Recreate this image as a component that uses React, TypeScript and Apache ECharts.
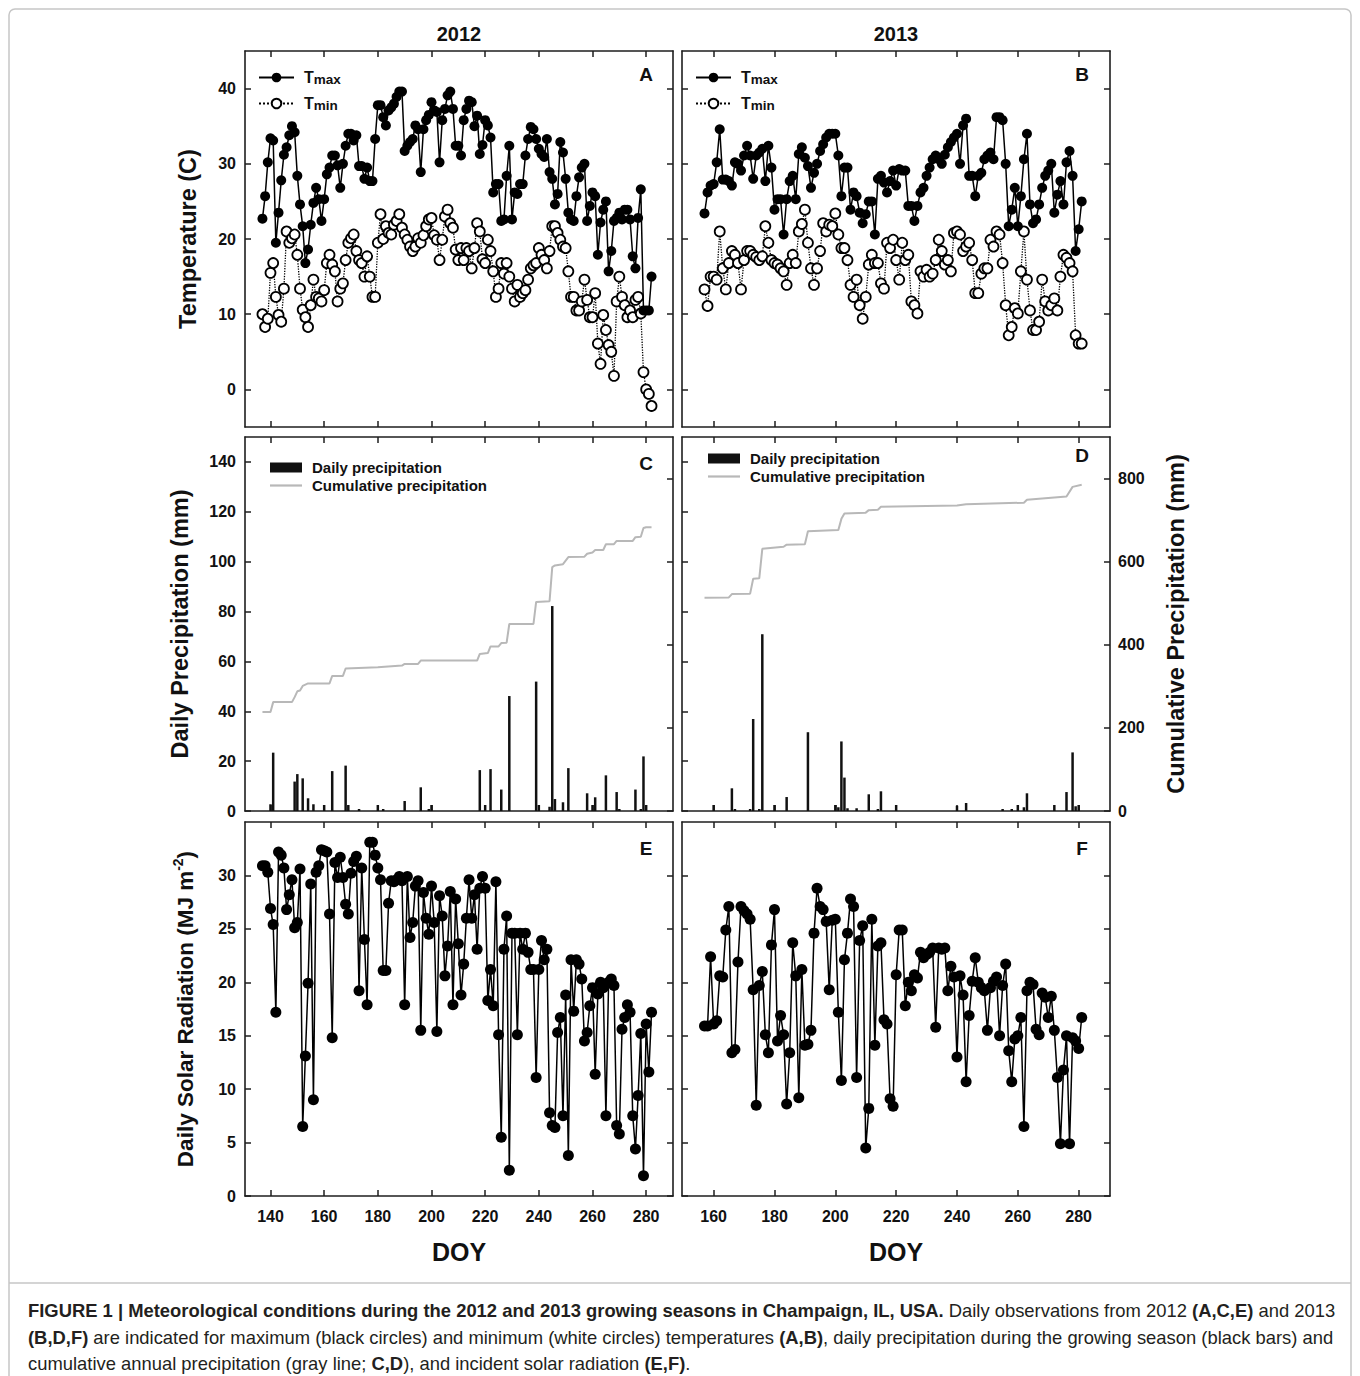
import React, { useEffect, useRef } from "react";
import * as echarts from "echarts";

const FONT = '"Liberation Sans", Arial, Helvetica, sans-serif';
const INK = "#111111";
const FRAME = "#1e1e1e";
const CUM_GRAY = "#b8b8b8";

// ---------------- data ----------------
const START_2012 = 137; // first DOY of daily series, 2012
const START_2013 = 157; // first DOY of daily series, 2013

const tmax2012 = [
  22.7, 25.7, 30.2, 33.4, 33.1, 19.5, 23.5, 27.8, 31.2, 32.2,
  33.8, 35.0, 34.2, 28.4, 24.6, 21.7, 16.8, 18.6, 21.9, 24.8,
  26.8, 25.3, 22.4, 25.3, 28.6, 29.5, 31.1, 31.1, 29.8, 26.8,
  30.0, 32.4, 34.0, 34.0, 33.1, 33.8, 29.7, 29.7, 28.0, 29.5,
  27.7, 27.7, 33.3, 37.8, 37.8, 36.2, 35.1, 37.1, 37.5, 38.0,
  38.9, 39.6, 39.6, 31.7, 32.4, 32.9, 33.3, 35.1, 34.6, 28.9,
  34.6, 35.8, 36.5, 38.2, 37.1, 36.9, 30.2, 35.8, 37.3, 39.1,
  39.6, 37.3, 32.4, 32.4, 31.1, 35.8, 37.3, 38.4, 38.2, 35.0,
  36.4, 31.3, 32.5, 35.8, 35.1, 33.5, 26.2, 27.3, 27.3, 22.4,
  22.6, 28.4, 32.4, 22.6, 26.2, 26.0, 27.3, 27.3, 31.1, 33.3,
  34.9, 34.6, 33.3, 32.0, 31.3, 30.9, 33.3, 28.9, 28.0, 24.6,
  26.0, 32.9, 31.5, 28.0, 23.5, 22.6, 22.4, 25.7, 28.2, 29.5,
  30.0, 22.4, 24.4, 26.2, 25.7, 17.9, 22.2, 23.9, 25.0, 15.7,
  18.4, 22.4, 22.8, 23.5, 22.6, 23.9, 23.9, 22.6, 17.7, 16.1,
  22.8, 26.6, 10.5, 10.5, 10.5, 15.0,
];

const tmin2012 = [
  10.0, 8.3, 9.4, 15.5, 16.8, 12.3, 9.9, 9.0, 13.4, 21.0,
  19.5, 20.1, 20.6, 17.9, 13.4, 10.6, 9.6, 8.3, 11.2, 14.6,
  12.3, 12.1, 11.7, 13.2, 16.8, 17.9, 16.6, 15.7, 11.7, 13.4,
  14.1, 17.2, 19.5, 20.1, 20.6, 18.4, 17.2, 16.8, 15.0, 17.7,
  15.0, 12.3, 12.3, 19.5, 23.3, 20.0, 21.7, 20.8, 20.6, 21.9,
  22.4, 23.3, 21.5, 20.6, 19.9, 19.0, 18.4, 19.0, 20.1, 19.5,
  20.5, 21.7, 22.6, 22.8, 20.5, 19.9, 17.2, 19.9, 23.0, 23.9,
  22.1, 21.5, 18.6, 17.2, 18.8, 17.2, 18.8, 18.4, 16.1, 18.8,
  22.1, 21.0, 17.3, 16.8, 19.9, 18.4, 15.7, 12.3, 13.4, 16.8,
  15.4, 16.8, 15.0, 13.4, 11.7, 13.9, 12.3, 12.8, 13.2, 14.6,
  16.1, 16.5, 16.8, 18.8, 17.9, 17.2, 16.1, 18.4, 21.7, 21.7,
  20.8, 19.9, 19.0, 18.8, 15.7, 12.3, 12.3, 10.5, 10.5, 11.7,
  14.6, 11.9, 9.6, 9.6, 12.8, 6.1, 3.4, 9.9, 7.9, 5.9,
  5.0, 1.8, 11.7, 15.0, 12.3, 11.2, 9.6, 10.5, 9.6, 11.9,
  12.3, 10.1, 2.3, 0.0, -0.6, -2.2,
];

const tmax2013 = [
  23.4, 26.2, 27.1, 27.3, 30.2, 34.6, 27.9, 27.9, 27.7, 27.1,
  30.2, 30.0, 29.1, 31.1, 32.4, 31.1, 28.0, 31.1, 31.5, 32.0,
  27.7, 32.4, 29.5, 23.9, 25.3, 25.3, 20.6, 25.3, 27.7, 28.4,
  25.3, 31.3, 32.2, 30.8, 29.7, 26.8, 28.8, 30.0, 31.7, 32.6,
  33.5, 34.0, 34.0, 34.0, 31.1, 25.7, 29.5, 29.5, 23.9, 26.2,
  25.7, 23.5, 22.1, 23.3, 25.0, 25.0, 20.6, 28.0, 28.4, 27.5,
  26.2, 27.7, 29.1, 27.1, 29.3,
  29.1, 29.1, 24.4, 24.4, 22.4, 24.4, 26.2, 26.8, 28.4, 29.5,
  30.6, 31.1, 30.6, 30.0, 31.2, 32.2, 32.9, 33.5, 34.0, 30.0,
  35.1, 36.0, 28.4, 28.4, 25.7, 28.4, 28.8, 30.6, 31.1, 31.5,
  30.6, 36.2, 36.2, 35.8,
  30.0, 21.7, 23.9, 26.8, 21.7, 25.7, 30.6, 34.0, 24.6, 22.1,
  22.6, 24.6, 26.8, 28.4, 29.1, 30.0, 23.5, 25.9, 27.7, 24.6,
  30.2, 31.7, 28.4, 18.4, 21.3, 25.0,
];

const tmin2013 = [
  13.3, 11.1, 15.0, 15.0, 14.6, 21.0, 16.1, 13.3, 16.8, 18.4,
  17.9, 16.8, 13.3, 17.2, 18.4, 18.4, 17.9, 17.6, 17.2, 17.7,
  21.7, 19.5, 17.2, 16.8, 16.6, 16.1, 15.7, 13.9, 16.8, 17.9,
  16.8, 21.0, 22.0, 23.9, 19.5, 16.1, 13.9, 16.1, 18.4, 22.1,
  21.0, 21.9, 21.7, 23.4, 20.6, 18.8, 18.8, 17.2, 13.9, 12.3,
  14.6, 11.2, 9.4, 12.3, 16.6, 17.9, 16.8, 16.8, 14.1, 13.4,
  19.5, 18.8, 19.9, 17.2,
  14.6, 19.5, 17.2, 17.9, 11.7, 11.2, 10.1, 15.7, 15.0, 15.9,
  15.0, 15.4, 17.2, 19.9, 18.4, 16.6, 17.2, 15.7, 20.8, 21.0,
  20.6, 18.4, 19.0, 19.5, 17.2, 12.8, 12.8, 15.4, 16.1, 16.1,
  19.9, 19.0, 21.0, 20.6, 16.8, 11.2, 7.2, 8.3, 10.8, 10.1,
  15.7, 21.0, 14.6, 10.5, 7.9, 7.9, 9.0, 14.6, 11.7, 10.5,
  11.2, 12.1, 10.5, 15.0, 17.9, 17.5, 16.8, 15.7, 7.2, 6.1, 6.1,
];

const solar2012 = [
  30.9, 30.9, 30.3, 26.9, 25.4, 17.2, 32.2, 31.9, 30.7, 26.8,
  28.2, 29.6, 25.1, 25.6, 30.6, 6.5, 13.1, 19.9, 29.2, 9.0,
  30.3, 30.9, 32.4, 32.3, 32.2, 26.4, 14.8, 31.2, 29.8, 31.7,
  29.8, 27.3, 26.4, 30.2, 31.3, 31.8, 19.2, 30.7, 24.0, 17.9,
  33.1, 33.1, 31.9, 30.7, 29.6, 21.1, 21.1, 27.4, 29.5, 29.4,
  29.6, 29.9, 29.5, 17.9, 29.9, 24.2, 25.6, 29.0, 29.5, 15.5,
  28.4, 26.0, 24.5, 29.0, 25.6, 15.4, 28.1, 26.2, 20.6, 23.4,
  28.5, 17.9, 27.8, 23.6, 18.8, 21.7, 26.0, 29.6, 26.0, 28.2,
  23.1, 28.8, 29.9, 28.8, 18.3, 21.2, 17.8, 29.4, 15.1, 5.5,
  23.1, 26.2, 2.4, 24.6, 24.6, 15.1, 24.6, 23.1, 24.6, 22.8,
  21.2, 21.2, 11.1, 21.2, 23.9, 22.1, 23.1, 7.8, 6.6, 6.4,
  15.3, 16.7, 7.5, 18.8, 3.8, 22.1, 17.3, 22.1, 21.7, 20.3,
  14.5, 15.3, 17.8, 19.5, 11.4, 18.9, 20.0, 19.5, 7.5, 20.0,
  20.3, 19.7, 6.6, 5.8, 15.6, 16.7, 17.9, 17.2, 7.5, 4.4,
  9.4, 15.2, 1.9, 16.1, 11.6, 17.2,
];

const solar2013 = [
  15.9, 15.9, 22.4, 16.1, 16.4, 20.6, 20.5, 24.9, 27.1, 13.4,
  13.7, 21.9, 27.1, 26.7, 26.4, 25.9, 19.3, 8.5, 19.7, 21.0,
  15.1, 13.4, 23.5, 26.8, 14.5, 16.9, 15.1, 8.6, 13.4, 23.7,
  20.6, 9.2, 21.2, 14.1, 14.2, 15.5, 24.6, 28.8, 27.1, 26.8,
  25.7, 19.3, 25.8, 25.9, 17.2, 10.8, 22.1, 24.6, 27.8, 27.1,
  11.1, 23.9, 25.3, 4.5, 8.2, 25.9, 14.1, 23.4, 23.7, 16.5,
  16.1, 9.1, 8.4, 20.7, 24.9,
  24.9, 17.8, 20.0, 19.2, 20.7, 20.4, 22.8, 22.3, 22.6, 22.8,
  23.2, 15.8, 23.2, 23.1, 23.2, 19.2, 21.5, 20.5, 13.0, 20.6,
  18.8, 10.7, 16.9, 20.1, 22.3, 20.0, 19.5, 19.2, 15.5, 19.5,
  20.1, 20.5, 15.0, 19.7, 21.7, 13.6, 10.7, 14.7, 15.0, 16.7,
  6.5, 19.2, 20.0, 19.8, 15.6, 15.1, 19.0, 18.6, 16.7, 18.7,
  15.5, 11.1, 4.9, 11.8, 15.0, 4.9, 14.8, 14.5, 13.8, 16.7,
];

// [DOY, mm]
const precip2012 = [
  [140, 2.7], [141, 23.4], [149, 11.8], [150, 14.8], [152, 13.1], [154, 5.1], [156, 2.7],
  [160, 2.4], [163, 16.0], [168, 18.2], [169, 2.4], [173, 0.8], [180, 2.4], [182, 0.8],
  [190, 4.0], [196, 9.5], [199, 0.8], [200, 2.4], [218, 16.4], [220, 2.4], [222, 16.8],
  [226, 8.6], [229, 46.1], [239, 51.9], [240, 2.4], [244, 1.7], [245, 82.2], [246, 4.8],
  [249, 3.5], [251, 17.2], [258, 7.1], [260, 2.4], [261, 5.5], [265, 14.3], [269, 7.6],
  [270, 0.8], [276, 8.6], [278, 0.8], [279, 21.9], [280, 2.4],
];

const precip2013 = [
  [160, 2.4], [166, 9.1], [167, 0.8], [172, 0.8], [173, 36.9], [175, 0.8], [176, 70.9],
  [180, 2.4], [184, 5.6], [191, 31.6], [200, 2.4], [201, 1.5], [202, 27.9], [203, 13.4],
  [204, 1.1], [207, 1.1], [211, 6.7], [214, 0.8], [215, 7.9], [220, 2.4], [240, 2.1],
  [243, 3.2], [255, 0.8], [258, 0.8], [260, 2.4], [262, 1.5], [263, 7.1], [272, 2.4],
  [276, 7.6], [278, 23.5], [279, 1.9], [280, 2.4],
];

// [DOY, cumulative mm]
const cumPrecip2012 = [
  [137, 238], [140, 238], [141, 262], [148, 262], [149, 274], [150, 288], [151, 290],
  [152, 301], [154, 307], [162, 307], [163, 325], [167, 325], [168, 343], [180, 346],
  [189, 350], [190, 354], [195, 354], [196, 362], [217, 362], [218, 378], [221, 380],
  [222, 396], [225, 396], [226, 404], [228, 405], [229, 450], [238, 450], [239, 503],
  [244, 505], [245, 587], [246, 591], [249, 594], [251, 611], [257, 612], [258, 619],
  [260, 622], [261, 628], [264, 628], [265, 642], [268, 642], [269, 650], [275, 650],
  [276, 659], [278, 660], [279, 681], [280, 683], [282, 683],
];

const cumPrecip2013 = [
  [157, 513], [165, 514], [166, 522], [172, 523], [173, 559], [175, 560], [176, 631],
  [183, 636], [184, 641], [190, 642], [191, 673], [201, 676], [202, 703], [203, 716],
  [210, 718], [211, 724], [214, 725], [215, 732], [240, 735], [243, 738], [262, 742],
  [263, 749], [276, 757], [278, 780], [281, 785],
];

const doyTicks2012 = [140, 160, 180, 200, 220, 240, 260, 280];
const doyTicks2013 = [160, 180, 200, 220, 240, 260, 280];
const tempTicks = [0, 10, 20, 30, 40];
const precipTicks = [0, 20, 40, 60, 80, 100, 120, 140];
const cumTicks = [0, 200, 400, 600, 800];
const solarTicks = [0, 5, 10, 15, 20, 25, 30];

const daily = (start: number, values: number[]) => values.map((v, i) => [start + i, v]);

// ---------------- layout ----------------
const GRIDS = [
  { left: 237, top: 43, width: 428, height: 376 },
  { left: 674, top: 43, width: 428, height: 376 },
  { left: 237, top: 429, width: 428, height: 374 },
  { left: 674, top: 429, width: 428, height: 374 },
  { left: 237, top: 814, width: 428, height: 374 },
  { left: 674, top: 814, width: 428, height: 374 },
];

const X_RANGE = [
  { min: 130.5, max: 290, ticks: doyTicks2012, year: "2012" },
  { min: 149.6, max: 290.3, ticks: doyTicks2013, year: "2013" },
];

const Y_RANGE = [
  { min: -5, max: 45, ticks: tempTicks },
  { min: 0, max: 150, ticks: precipTicks },
  { min: 0, max: 35, ticks: solarTicks },
];

const axisLine = { show: true, onZero: false, lineStyle: { color: FRAME, width: 1.6 } };
const tickCfg = (vals: number[]) => ({
  show: true,
  inside: true,
  length: 6,
  customValues: vals,
  lineStyle: { color: FRAME, width: 1.5 },
});
const labelCfg = (show: boolean, vals: number[], margin: number) => ({
  show,
  customValues: vals,
  margin,
  fontSize: 16,
  fontWeight: "bold",
  fontFamily: FONT,
  color: INK,
});
const nameStyle = (size: number) => ({
  fontSize: size,
  fontWeight: "bold",
  fontFamily: FONT,
  color: INK,
});

function buildOption() {
  const xAxis: any[] = [];
  const yAxis: any[] = [];
  GRIDS.forEach((_, g) => {
    const col = g % 2;
    const row = Math.floor(g / 2);
    const xr = X_RANGE[col];
    const yr = Y_RANGE[row];
    xAxis.push({
      type: "value",
      gridIndex: g,
      position: "bottom",
      min: xr.min,
      max: xr.max,
      axisLine,
      axisTick: tickCfg(xr.ticks),
      axisLabel: labelCfg(row === 2, xr.ticks, 12),
      splitLine: { show: false },
      name: row === 2 ? "DOY" : "",
      nameLocation: "middle",
      nameGap: 43,
      nameTextStyle: nameStyle(25),
    });
    xAxis.push({
      type: "value",
      gridIndex: g,
      position: "top",
      min: xr.min,
      max: xr.max,
      axisLine,
      axisTick: tickCfg(xr.ticks),
      axisLabel: { show: false },
      splitLine: { show: false },
      name: row === 0 ? xr.year : "",
      nameLocation: "middle",
      nameGap: 7,
      nameTextStyle: nameStyle(20),
    });
    let leftName = "";
    let leftGap = 45;
    let leftNameStyle: any = nameStyle(23.5);
    if (col === 0 && row === 0) leftName = "Temperature (C)";
    if (col === 0 && row === 1) {
      leftName = "Daily Precipitation (mm)";
      leftGap = 53;
    }
    if (col === 0 && row === 2) {
      leftName = "{a|Daily Solar Radiation (MJ m}{s|-2}{a|)}";
      leftGap = 46;
      leftNameStyle = {
        rich: {
          a: { ...nameStyle(22.5), lineHeight: 28 },
          s: { ...nameStyle(14), lineHeight: 15, verticalAlign: "top" },
        },
      };
    }
    yAxis.push({
      type: "value",
      gridIndex: g,
      position: "left",
      min: yr.min,
      max: yr.max,
      axisLine,
      axisTick: tickCfg(yr.ticks),
      axisLabel: labelCfg(col === 0, yr.ticks, 9),
      splitLine: { show: false },
      name: leftName,
      nameLocation: "middle",
      nameGap: leftGap,
      nameRotate: 90,
      nameTextStyle: leftNameStyle,
    });
    if (row === 1) {
      yAxis.push({
        type: "value",
        gridIndex: g,
        position: "right",
        min: 0,
        max: 900,
        axisLine,
        axisTick: tickCfg(cumTicks),
        axisLabel: labelCfg(col === 1, cumTicks, 8),
        splitLine: { show: false },
        name: col === 1 ? "Cumulative Precipitation (mm)" : "",
        nameLocation: "middle",
        nameGap: 54,
        nameRotate: 90,
        nameTextStyle: nameStyle(23.5),
      });
    } else {
      yAxis.push({
        type: "value",
        gridIndex: g,
        position: "right",
        min: yr.min,
        max: yr.max,
        axisLine,
        axisTick: tickCfg(yr.ticks),
        axisLabel: { show: false },
        splitLine: { show: false },
      });
    }
  });

  const tmaxStyle = {
    type: "line",
    symbol: "circle",
    symbolSize: 10,
    itemStyle: { color: "#000" },
    lineStyle: { color: "#000", width: 1.5 },
    z: 4,
  };
  const tminStyle = {
    type: "line",
    symbol: "circle",
    symbolSize: 10,
    itemStyle: { color: "#fff", borderColor: "#000", borderWidth: 1.8 },
    lineStyle: { color: "#000", width: 1.3, type: "dotted" },
    z: 3,
  };
  const barStyle = {
    type: "bar",
    barWidth: 2.5,
    itemStyle: { color: "#111" },
    z: 3,
  };
  const cumStyle = {
    type: "line",
    symbol: "none",
    lineStyle: { color: CUM_GRAY, width: 2 },
    itemStyle: { color: CUM_GRAY },
    z: 2,
  };
  const solarStyle = {
    type: "line",
    symbol: "circle",
    symbolSize: 11,
    itemStyle: { color: "#000" },
    lineStyle: { color: "#000", width: 1.5 },
  };

  const series: any[] = [
    { ...tminStyle, name: "Tmin", xAxisIndex: 0, yAxisIndex: 0, data: daily(START_2012, tmin2012) },
    { ...tmaxStyle, name: "Tmax", xAxisIndex: 0, yAxisIndex: 0, data: daily(START_2012, tmax2012) },
    { ...tminStyle, name: "Tmin", xAxisIndex: 2, yAxisIndex: 2, data: daily(START_2013, tmin2013) },
    { ...tmaxStyle, name: "Tmax", xAxisIndex: 2, yAxisIndex: 2, data: daily(START_2013, tmax2013) },
    { ...barStyle, name: "Daily precipitation", xAxisIndex: 4, yAxisIndex: 4, data: precip2012 },
    { ...cumStyle, name: "Cumulative precipitation", xAxisIndex: 4, yAxisIndex: 5, data: cumPrecip2012 },
    { ...barStyle, name: "Daily precipitation", xAxisIndex: 6, yAxisIndex: 6, data: precip2013 },
    { ...cumStyle, name: "Cumulative precipitation", xAxisIndex: 6, yAxisIndex: 7, data: cumPrecip2013 },
    { ...solarStyle, name: "Solar radiation 2012", xAxisIndex: 8, yAxisIndex: 8, data: daily(START_2012, solar2012) },
    { ...solarStyle, name: "Solar radiation 2013", xAxisIndex: 10, yAxisIndex: 10, data: daily(START_2013, solar2013) },
  ];

  const tRich = {
    g: { width: 5 },
    t: { ...nameStyle(16), lineHeight: 17, verticalAlign: "top" },
    s: { ...nameStyle(13.5), lineHeight: 14, verticalAlign: "bottom", padding: [7, 0, 0, 0] },
  };
  const tLegend = (name: string, left: number, top: number) => ({
    data: [name],
    left,
    top,
    orient: "vertical",
    padding: 0,
    itemWidth: 35,
    itemHeight: 12,
    selectedMode: false,
    formatter: (n: string) => (n === "Tmax" ? "{g| }{t|T}{s|max}" : "{g| }{t|T}{s|min}"),
    textStyle: { rich: tRich },
  });
  const pLegend = (left: number, top: number) => ({
    data: [
      { name: "Daily precipitation", icon: "rect" },
      { name: "Cumulative precipitation", icon: "path://M0,0H32V2.2H0Z" },
    ],
    left,
    top,
    orient: "vertical",
    padding: 0,
    itemWidth: 32,
    itemHeight: 10,
    itemGap: 3,
    selectedMode: false,
    formatter: (n: string) => "{g| }{p|" + n + "}",
    textStyle: { rich: { g: { width: 5 }, p: { ...nameStyle(15), lineHeight: 17 } } },
  });

  const letter = (txt: string, x: number, y: number) => ({
    type: "text",
    x,
    y,
    silent: true,
    style: {
      text: txt,
      fill: INK,
      fontSize: 19,
      fontWeight: "bold",
      fontFamily: FONT,
      align: "center",
      verticalAlign: "middle",
    },
  });

  const CAP = 18.4;
  const capRich = {
    b: { fill: "#231f20", color: "#231f20", fontSize: CAP, fontWeight: "bold", fontFamily: FONT },
    n: { fill: "#231f20", color: "#231f20", fontSize: CAP, fontWeight: "normal", fontFamily: FONT },
  };
  const capLine = (text: string, y: number) => ({
    type: "text",
    x: 20,
    y,
    silent: true,
    style: { text, rich: capRich, align: "left", verticalAlign: "middle", fontSize: CAP, fontFamily: FONT },
  });

  return {
    animation: false,
    backgroundColor: "#ffffff",
    grid: GRIDS.map((g) => ({ ...g, containLabel: false, show: false })),
    xAxis,
    yAxis,
    series,
    legend: [
      tLegend("Tmax", 250, 57),
      tLegend("Tmin", 250, 83),
      tLegend("Tmax", 687, 57),
      tLegend("Tmin", 687, 83),
      pLegend(262, 452),
      pLegend(700, 443),
    ],
    graphic: [
      {
        type: "rect",
        silent: true,
        shape: { x: 1, y: 1, width: 1342, height: 1420, r: 6 },
        style: { fill: "none", stroke: "#c6c6c6", lineWidth: 1.5 },
      },
      {
        type: "line",
        silent: true,
        shape: { x1: 1, y1: 1275, x2: 1343, y2: 1275 },
        style: { stroke: "#c6c6c6", lineWidth: 1.5 },
      },
      letter("A", 638, 66),
      letter("B", 1074, 66),
      letter("C", 638, 455),
      letter("D", 1074, 447),
      letter("E", 638, 840),
      letter("F", 1074, 840),
      capLine(
        "{b|FIGURE 1 | Meteorological conditions during the 2012 and 2013 growing seasons in Champaign, IL, USA.}{n| Daily observations from 2012 }{b|(A,C,E)}{n| and 2013}",
        1302
      ),
      capLine(
        "{b|(B,D,F)}{n| are indicated for maximum (black circles) and minimum (white circles) temperatures }{b|(A,B)}{n|, daily precipitation during the growing season (black bars) and}",
        1329
      ),
      capLine(
        "{n|cumulative annual precipitation (gray line; }{b|C,D}{n|), and incident solar radiation }{b|(E,F)}{n|.}",
        1355
      ),
    ],
  };
}

export default function App() {
  const ref = useRef<HTMLDivElement>(null);
  useEffect(() => {
    if (!ref.current) return;
    const chart = echarts.init(ref.current, null, { renderer: "svg" });
    chart.setOption(buildOption() as any);
    return () => chart.dispose();
  }, []);
  return <div ref={ref} style={{ width: 1344, height: 1368 }} />;
}
